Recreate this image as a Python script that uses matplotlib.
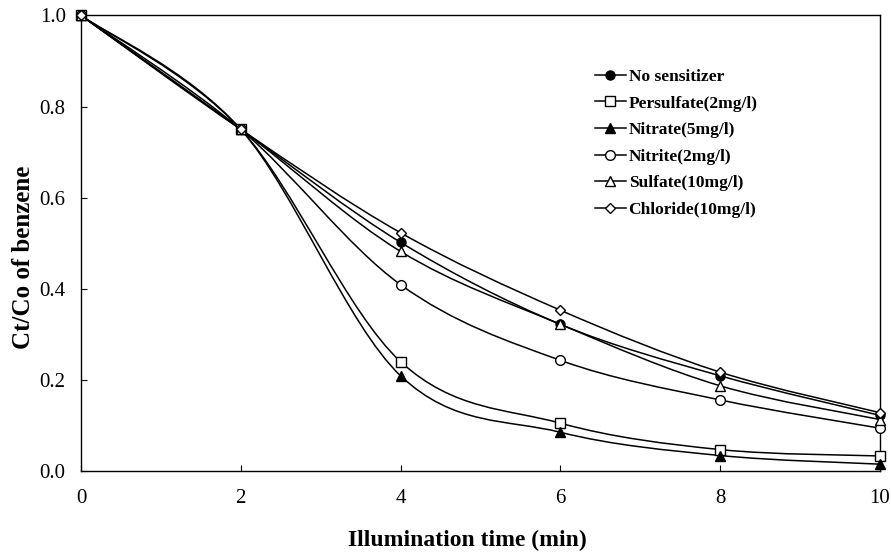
import numpy as np
import matplotlib
matplotlib.use("Agg")
import matplotlib.pyplot as plt
from matplotlib.path import Path
from matplotlib.patches import PathPatch
from matplotlib.lines import Line2D

plt.rcParams["font.family"] = ["Liberation Serif", "DejaVu Serif"]

# Ct/Co of benzene vs illumination time (min)
time = [0, 2, 4, 6, 8, 10]
no_sensitizer = [1.0, 0.75, 0.502, 0.322, 0.209, 0.122]
persulfate = [1.0, 0.75, 0.240, 0.105, 0.047, 0.033]
nitrate = [1.0, 0.75, 0.209, 0.085, 0.034, 0.015]
nitrite = [1.0, 0.75, 0.409, 0.243, 0.156, 0.094]
sulfate = [1.0, 0.75, 0.482, 0.322, 0.187, 0.113]
chloride = [1.0, 0.75, 0.523, 0.353, 0.217, 0.128]

labels = ["No sensitizer", "Persulfate(2mg/l)", "Nitrate(5mg/l)",
          "Nitrite(2mg/l)", "Sulfate(10mg/l)", "Chloride(10mg/l)"]
series = [no_sensitizer, persulfate, nitrate, nitrite, sulfate, chloride]
markers = ["o", "s", "^", "o", "^", "D"]
fills = ["black", "white", "black", "white", "white", "white"]
sizes = [6.5, 7, 7, 7, 7, 5.5]


def smooth_path(x, y):
    """Cubic Bezier through the points (spreadsheet-style smoothed line)."""
    p = np.column_stack([x, y]).astype(float)
    n = len(p)
    verts = [p[0]]
    codes = [Path.MOVETO]
    for i in range(n - 1):
        p0 = p[i - 1] if i > 0 else p[i]
        p3 = p[i + 2] if i + 2 < n else p[i + 1]
        c1 = p[i] + (p[i + 1] - p0) / 6.0
        c2 = p[i + 1] - (p3 - p[i]) / 6.0
        verts += [c1, c2, p[i + 1]]
        codes += [Path.CURVE4] * 3
    return Path(verts, codes)


fig = plt.figure(figsize=(8.91, 5.57), dpi=100)
ax = fig.add_axes([0.0909, 0.1544, 0.8967, 0.8178])

handles = []
for y, m, fc, ms, lab in zip(series, markers, fills, sizes, labels):
    ax.add_patch(PathPatch(smooth_path(time, y), facecolor="none",
                           edgecolor="black", lw=1.1, zorder=2))
    ax.plot(time, y, ls="none", marker=m, ms=ms, mfc=fc, mec="black",
            mew=1.0, zorder=3, clip_on=False)
    handles.append(Line2D([], [], color="black", lw=1.1, marker=m, ms=ms,
                          mfc=fc, mec="black", mew=1.0, label=lab))

ax.set_xlim(0, 10)
ax.set_ylim(0, 1.0)
ax.set_xticks(range(0, 11, 2))
ax.set_yticks(np.arange(0, 1.01, 0.2))
ax.set_yticklabels([f"{v:.1f}" for v in np.arange(0, 1.01, 0.2)])
ax.tick_params(axis="both", direction="in", length=4, width=0.8, labelsize=15)
ax.tick_params(axis="x", pad=13)
ax.tick_params(axis="y", pad=11)
for sp in ax.spines.values():
    sp.set_linewidth(1.0)

ax.set_xlabel("Illumination time (min)", fontsize=17, fontweight="bold")
ax.set_ylabel("Ct/Co of benzene", fontsize=18, fontweight="bold")
ax.xaxis.set_label_coords(0.483, -0.13)
ax.yaxis.set_label_coords(-0.058, 0.47)

ax.legend(handles=handles, loc="upper left", bbox_to_anchor=(0.643, 0.883),
          frameon=False, handlelength=1.8, handletextpad=0.15,
          labelspacing=0.6, borderaxespad=0, borderpad=0,
          prop={"weight": "bold", "size": 12.5})

fig.savefig("out.png", dpi=100)
